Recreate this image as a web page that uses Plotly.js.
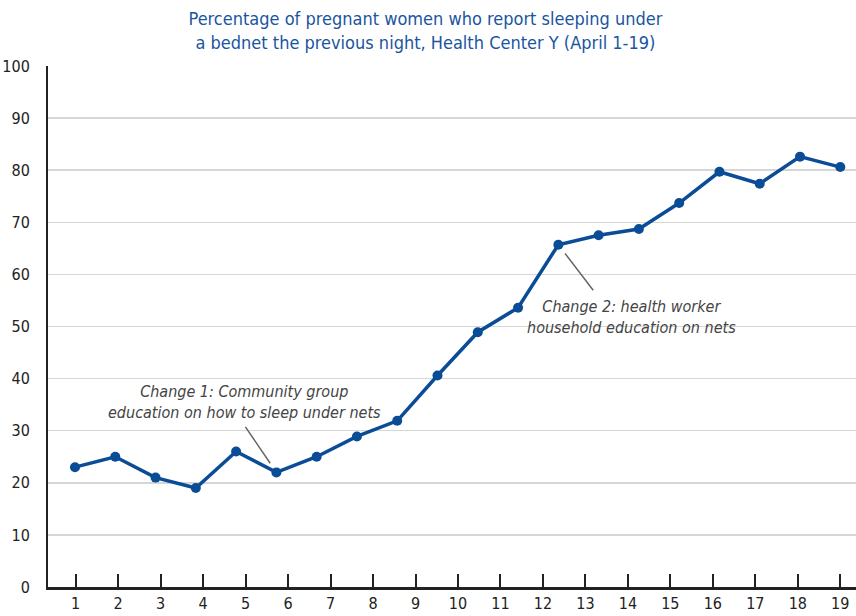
<!DOCTYPE html>
<html>
<head>
<meta charset="utf-8">
<script src="https://cdn.plot.ly/plotly-3.0.1.min.js"></script>
<style>html,body{margin:0;padding:0;background:#fff;}#chart{width:856px;height:616px;}</style>
</head>
<body>
<div id="chart"></div>
<script>
// Day tick labels (April 1-19)
const dayTicks = [1,2,3,4,5,6,7,8,9,10,11,12,13,14,15,16,17,18,19];
const dayLabels = ["1","2","3","4","5","6","7","8","9","10","11","12","13","14","15","16","17","18","19"];
// Observations (20 points spread across the 19 days)
const obsIndex = [1,2,3,4,5,6,7,8,9,10,11,12,13,14,15,16,17,18,19,20];
const pctBednet = [23,25,21,19,26,22,25,28.9,31.9,40.6,48.9,53.6,65.7,67.5,68.7,73.7,79.7,77.4,82.6,80.6];
const yTicks = [0,10,20,30,40,50,60,70,80,90,100];

const FONT = '"Liberation Sans Narrow", "DejaVu Sans Condensed", Arial, sans-serif';
const BLUE = '#0b4c97';

const traces = [
  {x: obsIndex, y: pctBednet, xaxis: 'x2', yaxis: 'y', type: 'scatter', mode: 'lines+markers',
   line: {color: BLUE, width: 3.5}, marker: {color: BLUE, size: 10}, hoverinfo: 'skip'},
  // invisible trace to keep the tick axis active
  {x: dayTicks, y: dayTicks.map(() => null), xaxis: 'x', yaxis: 'y', type: 'scatter', mode: 'markers', showlegend: false}
];

const layout = {
  width: 856, height: 616,
  margin: {l: 48, r: 0, t: 66, b: 28.5},
  paper_bgcolor: '#fff', plot_bgcolor: '#fff',
  showlegend: false,
  font: {family: FONT, color: '#222', size: 16},
  title: {text: 'Percentage of pregnant women who report sleeping under<br>a bednet the previous night, Health Center Y (April 1-19)',
          font: {family: FONT, size: 18, color: '#1a55a0'}, x: 0.497, xanchor: 'center', y: 0.959, yanchor: 'middle'},
  xaxis: {range: [0.348, 19.37], tickvals: dayTicks, ticktext: dayLabels, ticks: 'inside', ticklen: 13, tickwidth: 2,
          tickcolor: '#222', showgrid: false, zeroline: false, showline: true, linecolor: '#222', linewidth: 2.5,
          fixedrange: true, tickfont: {family: FONT, size: 16, color: '#222'}},
  xaxis2: {range: [0.33, 20.39], overlaying: 'x', visible: false, fixedrange: true},
  yaxis: {range: [0, 100], tickvals: yTicks, showgrid: true, gridcolor: '#d6d6d6', gridwidth: 1.5, zeroline: false,
          showline: true, linecolor: '#222', linewidth: 2, ticks: '', ticklabelstandoff: 13,
          tickfont: {family: FONT, size: 16, color: '#222'}, fixedrange: true},
  annotations: [
    {xref: 'x2', yref: 'y', x: 5.21, y: 35.5, text: 'Change 1: Community group<br>education on how to sleep under nets',
     showarrow: false, xanchor: 'center', yanchor: 'middle', font: {family: FONT, size: 16, color: '#444', style: 'italic'}},
    {xref: 'x2', yref: 'y', x: 6, y: 22, text: '', showarrow: true, arrowhead: 0, arrowwidth: 1.5, arrowcolor: '#666',
     ax: -32, ay: -47, standoff: 11},
    {xref: 'x2', yref: 'y', x: 14.82, y: 51.8, text: 'Change 2: health worker<br>household education on nets',
     showarrow: false, xanchor: 'center', yanchor: 'middle', font: {family: FONT, size: 16, color: '#444', style: 'italic'}},
    {xref: 'x2', yref: 'y', x: 13, y: 65.7, text: '', showarrow: true, arrowhead: 0, arrowwidth: 1.5, arrowcolor: '#666',
     ax: 36, ay: 47, standoff: 11}
  ]
};

Plotly.newPlot('chart', traces, layout, {staticPlot: true, displayModeBar: false});
</script>
</body>
</html>
